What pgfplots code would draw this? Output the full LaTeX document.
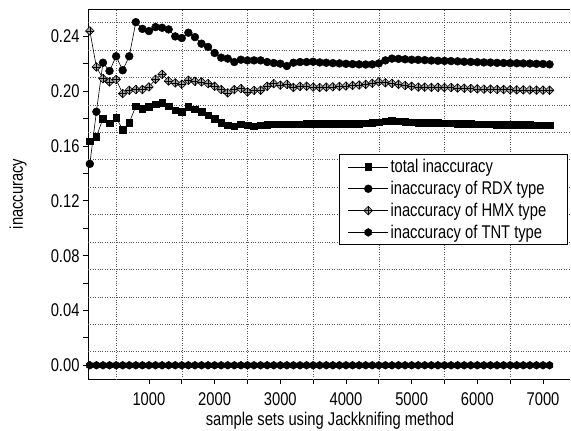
\documentclass[border=0pt]{standalone}
\usepackage{pgfplots}
\pgfplotsset{compat=1.18}
\usepackage{pgfplotstable}
\usepackage{fontspec}
\setmainfont{Liberation Sans}[FakeStretch=0.8]

\pgfdeclareplotmark{dplus}{%
  \pgfpathmoveto{\pgfqpoint{0pt}{\pgfplotmarksize}}%
  \pgfpathlineto{\pgfqpoint{\pgfplotmarksize}{0pt}}%
  \pgfpathlineto{\pgfqpoint{0pt}{-\pgfplotmarksize}}%
  \pgfpathlineto{\pgfqpoint{-\pgfplotmarksize}{0pt}}%
  \pgfpathclose
  \pgfusepathqfillstroke
  \pgfpathmoveto{\pgfqpoint{0pt}{\pgfplotmarksize}}%
  \pgfpathlineto{\pgfqpoint{0pt}{-\pgfplotmarksize}}%
  \pgfpathmoveto{\pgfqpoint{\pgfplotmarksize}{0pt}}%
  \pgfpathlineto{\pgfqpoint{-\pgfplotmarksize}{0pt}}%
  \pgfusepathqstroke
}
\pgfdeclareplotmark{hexa}{%
  \pgfpathmoveto{\pgfqpointpolar{90}{\pgfplotmarksize}}%
  \pgfpathlineto{\pgfqpointpolar{150}{\pgfplotmarksize}}%
  \pgfpathlineto{\pgfqpointpolar{210}{\pgfplotmarksize}}%
  \pgfpathlineto{\pgfqpointpolar{270}{\pgfplotmarksize}}%
  \pgfpathlineto{\pgfqpointpolar{330}{\pgfplotmarksize}}%
  \pgfpathlineto{\pgfqpointpolar{30}{\pgfplotmarksize}}%
  \pgfpathclose
  \pgfusepathqfillstroke
}

\pgfplotstableread{
s total rdx hmx tnt
100 0.1634 0.1470 0.2440 0
200 0.1668 0.1850 0.2177 0
300 0.1801 0.2208 0.2092 0
400 0.1765 0.2148 0.2068 0
500 0.1808 0.2255 0.2085 0
600 0.1721 0.2153 0.1983 0
700 0.1770 0.2255 0.2007 0
800 0.1891 0.2504 0.2012 0
900 0.1874 0.2455 0.2012 0
1000 0.1886 0.2439 0.2031 0
1100 0.1905 0.2468 0.2087 0
1200 0.1915 0.2463 0.2124 0
1300 0.1891 0.2451 0.2075 0
1400 0.1862 0.2400 0.2061 0
1500 0.1850 0.2388 0.2051 0
1600 0.1886 0.2427 0.2080 0
1700 0.1867 0.2395 0.2073 0
1800 0.1850 0.2347 0.2068 0
1900 0.1825 0.2323 0.2056 0
2000 0.1801 0.2279 0.2036 0
2100 0.1770 0.2245 0.2012 0
2200 0.1753 0.2238 0.1988 0
2300 0.1745 0.2213 0.2012 0
2400 0.1760 0.2230 0.2019 0
2500 0.1753 0.2225 0.1995 0
2600 0.1745 0.2225 0.2007 0
2700 0.1753 0.2225 0.2007 0
2800 0.1755 0.2213 0.2036 0
2900 0.1758 0.2206 0.2056 0
3000 0.1760 0.2201 0.2044 0
3100 0.1760 0.2184 0.2051 0
3200 0.1760 0.2208 0.2027 0
3300 0.1760 0.2213 0.2036 0
3400 0.1762 0.2213 0.2036 0
3500 0.1762 0.2215 0.2030 0
3600 0.1762 0.2210 0.2027 0
3700 0.1762 0.2208 0.2030 0
3800 0.1763 0.2205 0.2032 0
3900 0.1763 0.2203 0.2035 0
4000 0.1763 0.2200 0.2038 0
4100 0.1764 0.2198 0.2042 0
4200 0.1764 0.2196 0.2045 0
4300 0.1765 0.2195 0.2050 0
4400 0.1770 0.2196 0.2058 0
4500 0.1775 0.2203 0.2068 0
4600 0.1782 0.2225 0.2062 0
4700 0.1784 0.2238 0.2058 0
4800 0.1780 0.2236 0.2050 0
4900 0.1776 0.2233 0.2042 0
5000 0.1773 0.2230 0.2036 0
5100 0.1771 0.2229 0.2030 0
5200 0.1770 0.2227 0.2030 0
5300 0.1769 0.2224 0.2028 0
5400 0.1768 0.2222 0.2029 0
5500 0.1767 0.2221 0.2027 0
5600 0.1765 0.2220 0.2027 0
5700 0.1764 0.2218 0.2024 0
5800 0.1762 0.2215 0.2022 0
5900 0.1761 0.2214 0.2020 0
6000 0.1760 0.2212 0.2017 0
6100 0.1759 0.2210 0.2015 0
6200 0.1758 0.2209 0.2015 0
6300 0.1757 0.2207 0.2013 0
6400 0.1756 0.2206 0.2012 0
6500 0.1755 0.2205 0.2011 0
6600 0.1755 0.2204 0.2010 0
6700 0.1754 0.2203 0.2010 0
6800 0.1754 0.2202 0.2009 0
6900 0.1753 0.2200 0.2008 0
7000 0.1753 0.2199 0.2008 0
7100 0.1752 0.2196 0.2007 0
}\datatable

\begin{document}
\begin{tikzpicture}
\begin{axis}[
  scale only axis,
  width=482bp, height=370bp,
  xmin=72, xmax=7411,
  ymin=-0.01, ymax=0.26,
  clip=false,
  axis lines*=left,
  axis line style={line width=0.9bp, black},
  every axis plot/.append style={line width=0.6bp, black},
  xtick={1000,2000,...,7000},
  minor x tick num=1,
  ytick={0,0.04,0.08,0.12,0.16,0.20,0.24},
  minor y tick num=1,
  tick align=outside,
  major tick length=5bp, minor tick length=5bp,
  tick style={line width=0.8bp, black},
  extra x ticks={500,1500,2500,3500,4500,5500,6500},
  extra x tick labels={},
  extra x tick style={grid=major, major tick length=0pt},
  extra y ticks={0.01,0.03,0.05,0.07,0.09,0.11,0.13,0.15,0.17,0.19,0.21,0.23,0.25},
  extra y tick labels={},
  extra y tick style={grid=major, major tick length=0pt},
  major grid style={dotted, line width=0.5bp, black!65},
  /pgf/number format/assume math mode=true,
  yticklabel style={/pgf/number format/.cd, fixed, fixed zerofill, precision=2},
  xticklabel style={yshift=-5bp, /pgf/number format/.cd, set thousands separator={}},
  tick label style={font=\fontsize{18.5}{22}\selectfont},
  label style={font=\fontsize{18.5}{22}\selectfont},
  xlabel={sample sets using Jackknifing method},
  ylabel={inaccuracy},
  xlabel style={at={(axis description cs:0.502,0)}, anchor=center, yshift=-42bp},
  ylabel style={at={(axis description cs:-0.145,0.5)}, anchor=center},
  legend style={at={(0.996,0.608)}, anchor=north east, draw=black, line width=0.9bp,
    fill=white, font=\fontsize{18.5}{22}\selectfont, inner xsep=9bp, inner ysep=3bp, row sep=3bp},
  legend cell align=left,
  legend image code/.code={%
    \draw[#1, mark=none] (0bp,0bp) -- (40bp,0bp);
    \draw[#1, only marks] plot coordinates {(20bp,0bp)};},
]
\addplot[mark=square*, mark size=3.3bp, mark options={fill=black, line width=0.5bp}] table[x=s, y=total] {\datatable};
\addlegendentry{total inaccuracy}
\addplot[mark=*, mark size=3.9bp, mark options={fill=black, line width=0.5bp}] table[x=s, y=rdx] {\datatable};
\addlegendentry{inaccuracy of RDX type\hspace*{12bp}}
\addplot[mark=dplus, mark size=4.3bp, mark options={fill=black!35, line width=0.6bp}] table[x=s, y=hmx] {\datatable};
\addlegendentry{inaccuracy of HMX type}
\addplot[mark=hexa, mark size=3.9bp, mark options={fill=black, line width=0.5bp}] table[x=s, y=tnt] {\datatable};
\addlegendentry{inaccuracy of TNT type}
\draw[line width=0.9bp] (rel axis cs:0,1) -- (rel axis cs:1,1);
\end{axis}
\pgfresetboundingbox
\path ([shift={(-88bp,-52bp)}]current axis.south west) rectangle ++(571bp,431bp);
\end{tikzpicture}
\end{document}
